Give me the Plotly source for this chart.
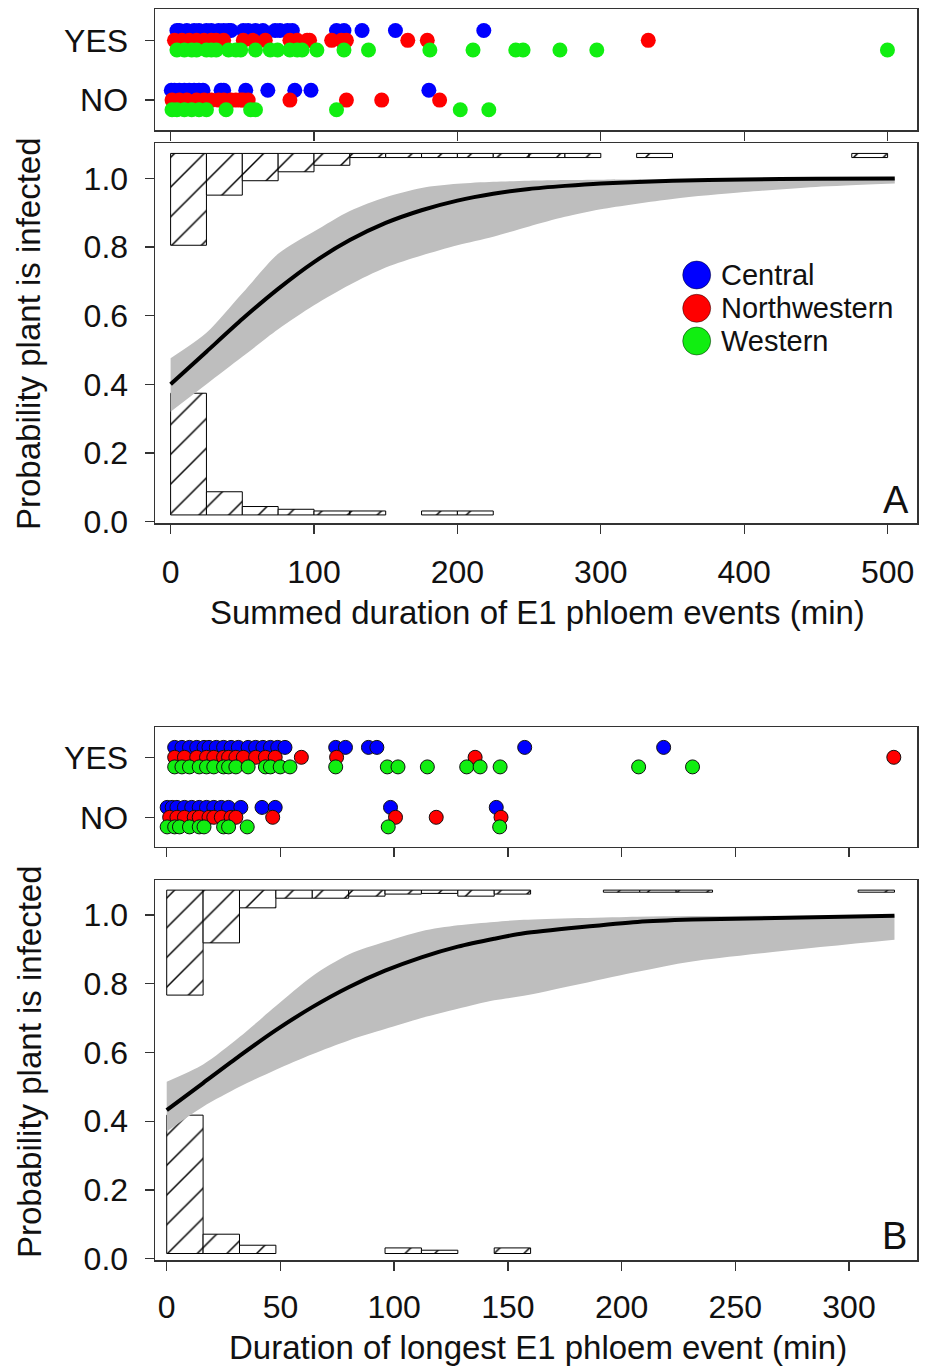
import plotly.graph_objects as go

# ---------------- data ----------------
groups = ["Central", "Northwestern", "Western"]
group_colors = ["#0000FF", "#FF0000", "#11EE11"]

# Panel A strip (summed duration of E1, min)
a_yes_central = [4.4, 6.1, 11.3, 16.4, 19.8, 25, 28.4, 33.5, 37, 40.4, 42.1, 50.7, 54.1, 59.2, 64.4, 72.9, 76.3, 81.5, 84.9, 115.7, 120.9, 133.5, 156.8, 218.4]
a_yes_nw = [2.7, 7.9, 13, 18.1, 23.3, 28.4, 31.8, 37, 50.7, 57.5, 66, 83.2, 88.3, 95.2, 96.9, 112.3, 119.1, 122.6, 165.4, 179, 333.1]
a_yes_w = [4.4, 9.6, 14.7, 18.1, 25, 28.4, 31.8, 40.4, 45.5, 48.9, 59.2, 69.5, 74.6, 83.2, 88.3, 91.7, 102, 120.9, 138, 180.8, 210.9, 240.7, 245.8, 271.5, 297.2, 499.9]
a_no_central = [0.5, 2.7, 6.1, 9.6, 13, 16.4, 19.8, 22.6, 35.2, 37, 52.4, 67.8, 86.6, 97.9, 180.1]
a_no_nw = [1, 6.1, 11.3, 18.1, 23.3, 28.4, 33.5, 37, 42.1, 45.5, 48.9, 50.7, 54.1, 83.2, 122.6, 147.2, 187.6]
a_no_w = [1, 4.4, 9.6, 14.7, 19.8, 25, 38.7, 55.8, 59.2, 115.7, 202, 221.9]

# Panel A histograms (bin width 25 min)
a_bin_width = 25
a_yes_depth = [0.2675, 0.1215, 0.0795, 0.0535, 0.0345, 0.012, 0.012, 0.012, 0.012, 0.012,
               0.012, 0.012, 0, 0.012, 0, 0, 0, 0, 0, 0.012]
a_no_height = [0.3545, 0.0675, 0.0245, 0.0165, 0.0115, 0.0115, 0, 0.0115, 0.0115]
a_yes_top = 1.0725
a_no_base = 0.0195

# Panel A fitted curve and confidence band
a_curve_x = [0, 25, 50, 75, 100, 125, 150, 175, 200, 225, 250, 275, 300, 350, 400, 450, 505]
a_curve_y = [0.400, 0.495, 0.590, 0.678, 0.756, 0.820, 0.870, 0.907, 0.935, 0.955, 0.969, 0.978, 0.985, 0.993, 0.9968, 0.9985, 0.9994]
a_upper = [0.476, 0.55, 0.665, 0.78, 0.845, 0.905, 0.945, 0.972, 0.984, 0.99, 0.993, 0.995, 0.996, 0.998, 0.999, 0.999, 0.9995]
a_lower = [0.32, 0.40, 0.48, 0.56, 0.63, 0.69, 0.74, 0.775, 0.805, 0.83, 0.86, 0.888, 0.91, 0.94, 0.96, 0.975, 0.985]
a_xticks = [0, 100, 200, 300, 400, 500]

# Panel B strip (longest E1 event, min)
b_yes_central = [3.5, 6.7, 10, 13.2, 16.4, 18.6, 21.8, 25, 28.3, 31.5, 35.8, 39.1, 42.3, 45.6, 48.8, 52, 74.3, 78.6, 88.7, 92.4, 157.4, 218.5]
b_yes_nw = [3.5, 7.8, 13.2, 17.5, 20.7, 25, 27.2, 30.4, 33.7, 39.1, 43.4, 47.7, 59.2, 74.7, 135.6, 319.7]
b_yes_w = [3.5, 6.7, 10, 14.3, 17.5, 20.7, 25, 27.2, 30.4, 35.8, 43.4, 45.6, 49.9, 54.2, 74.3, 97, 101.7, 114.6, 131.9, 137.8, 146.6, 207.5, 231.2]
b_no_central = [0.2, 2.4, 4.5, 7.8, 11, 14.3, 17.5, 20.7, 24, 27.2, 32.6, 41.9, 47.7, 98.4, 144.9]
b_no_nw = [1.3, 4.5, 7.8, 12.1, 14.3, 18.6, 20.7, 24, 28.3, 30.4, 46.6, 100.6, 118.5, 147]
b_no_w = [0.2, 3.5, 5.6, 10, 14.3, 16.4, 25, 27.2, 35.4, 97.4, 146.4]

# Panel B histograms (bin width 16 min)
b_bin_width = 16
b_yes_depth = [0.3055, 0.1535, 0.0515, 0.0235, 0.0235, 0.0175, 0.0115, 0.0095, 0.0175, 0.0115,
               0, 0, 0.006, 0.006, 0.006, 0, 0, 0, 0, 0.006]
b_no_height = [0.4027, 0.0562, 0.0241, 0, 0, 0, 0.0163, 0.0096, 0, 0.0163]
b_yes_top = 1.0725
b_no_base = 0.0149

b_curve_x = [0, 16, 32, 48, 64, 80, 96, 112, 128, 144, 157, 207, 231, 320]
b_curve_y = [0.432, 0.511, 0.590, 0.665, 0.732, 0.790, 0.838, 0.877, 0.908, 0.931, 0.947, 0.980, 0.987, 0.998]
b_upper = [0.515, 0.565, 0.645, 0.735, 0.822, 0.885, 0.922, 0.953, 0.97, 0.98, 0.986, 0.995, 0.997, 0.9995]
b_lower = [0.37, 0.442, 0.50, 0.55, 0.595, 0.635, 0.668, 0.70, 0.727, 0.752, 0.765, 0.835, 0.865, 0.928]
b_xticks = [0, 50, 100, 150, 200, 250, 300]

y_ticks = [0.0, 0.2, 0.4, 0.6, 0.8, 1.0]
y_ticktext = ["0.0", "0.2", "0.4", "0.6", "0.8", "1.0"]
strip_ticktext = ["NO", "YES"]

x_title_a = "Summed duration of E1 phloem events (min)"
x_title_b = "Duration of longest E1 phloem event (min)"
y_title = "Probability plant is infected"

# ---------------- layout helpers ----------------
W, H = 925, 1367
FONT = "Arial, Liberation Sans, sans-serif"
AX = "#333333"

def fx(p):
    return p / W

def fy(p):
    return 1 - p / H

fig = go.Figure()

offsets = [0.165, 0.0, -0.16]


def add_strip(yes_lists, no_lists, xa, ya, size, outline):
    for gi, (yes, no) in enumerate(zip(yes_lists, no_lists)):
        xs = list(no) + list(yes)
        ys = [0 + offsets[gi]] * len(no) + [1 + offsets[gi]] * len(yes)
        fig.add_trace(go.Scatter(
            x=xs, y=ys, mode="markers", xaxis=xa, yaxis=ya, showlegend=False,
            marker=dict(size=size, color=group_colors[gi],
                        line=dict(color="#111111" if outline else group_colors[gi], width=1 if outline else 0)),
            hoverinfo="skip"))


def add_hist(depths, heights, width, top, base, xa, ya):
    pat = dict(shape="/", size=21, solidity=0.07, fgcolor="black", bgcolor="white")
    xs, ys, bs = [], [], []
    for i, d in enumerate(depths):
        if d > 0:
            xs.append(i * width + width / 2)
            ys.append(d)
            bs.append(top - d)
    fig.add_trace(go.Bar(x=xs, y=ys, base=bs, width=width, xaxis=xa, yaxis=ya, showlegend=False,
                         marker=dict(color="white", line=dict(color="black", width=1), pattern=pat),
                         hoverinfo="skip"))
    xs, ys, bs = [], [], []
    for i, h in enumerate(heights):
        if h > 0:
            xs.append(i * width + width / 2)
            ys.append(h)
            bs.append(base)
    fig.add_trace(go.Bar(x=xs, y=ys, base=bs, width=width, xaxis=xa, yaxis=ya, showlegend=False,
                         marker=dict(color="white", line=dict(color="black", width=1), pattern=pat),
                         hoverinfo="skip"))


def add_curve(cx, cy, lo, up, xa, ya):
    fig.add_trace(go.Scatter(x=cx, y=lo, mode="lines",
                             line=dict(width=0, color="#BEBEBE", shape="spline", smoothing=0.8),
                             xaxis=xa, yaxis=ya, showlegend=False, hoverinfo="skip"))
    fig.add_trace(go.Scatter(x=cx, y=up, mode="lines",
                             line=dict(width=0, color="#BEBEBE", shape="spline", smoothing=0.8),
                             fill="tonexty", fillcolor="#BEBEBE",
                             xaxis=xa, yaxis=ya, showlegend=False, hoverinfo="skip"))
    fig.add_trace(go.Scatter(x=cx, y=cy, mode="lines", line=dict(width=4, color="black", shape="spline", smoothing=0.6),
                             xaxis=xa, yaxis=ya, showlegend=False, hoverinfo="skip"))


# Panel A
add_strip([a_yes_central, a_yes_nw, a_yes_w], [a_no_central, a_no_nw, a_no_w], "x", "y", 15, False)
add_curve(a_curve_x, a_curve_y, a_lower, a_upper, "x2", "y2")
add_hist(a_yes_depth, [], a_bin_width, a_yes_top, a_no_base, "x2", "y2")
add_hist([], a_no_height, a_bin_width, a_yes_top, a_no_base, "x2", "y2")

# Panel B
add_strip([b_yes_central, b_yes_nw, b_yes_w], [b_no_central, b_no_nw, b_no_w], "x3", "y3", 14, True)
add_curve(b_curve_x, b_curve_y, b_lower, b_upper, "x4", "y4")
add_hist(b_yes_depth, [], b_bin_width, b_yes_top, b_no_base, "x4", "y4")
add_hist([], b_no_height, b_bin_width, b_yes_top, b_no_base, "x4", "y4")

tickfont = dict(family=FONT, size=32, color="#111111")
xdom = [fx(155), fx(917)]
a_xr = [-10.88, 520.5]
b_xr = [-5.15, 329.9]
main_yr = [-0.004, 1.102]

common_axis = dict(showline=True, mirror=True, linecolor=AX, linewidth=1.5, ticks="outside",
                   ticklen=9, tickwidth=1.3, tickcolor=AX, showgrid=False, zeroline=False,
                   automargin=False, tickfont=tickfont, fixedrange=True)

fig.update_layout(
    width=W, height=H, template="none", paper_bgcolor="white", plot_bgcolor="white",
    margin=dict(l=0, r=0, t=0, b=0), barmode="overlay", bargap=0, showlegend=False,
    font=dict(family=FONT, color="#111111"),
    xaxis=dict(domain=xdom, anchor="y", range=a_xr, tickvals=a_xticks, showticklabels=False, **common_axis),
    yaxis=dict(domain=[fy(130), fy(9.3)], anchor="x", range=[-0.5, 1.52], tickvals=[0, 1],
               ticktext=strip_ticktext, ticklabelstandoff=10, **common_axis),
    xaxis2=dict(domain=xdom, anchor="y2", range=a_xr, tickvals=a_xticks, ticklabelstandoff=11, **common_axis),
    yaxis2=dict(domain=[fy(523), fy(143.3)], anchor="x2", range=main_yr, tickvals=y_ticks,
                ticktext=y_ticktext, ticklabelstandoff=10, **common_axis),
    xaxis3=dict(domain=xdom, anchor="y3", range=b_xr, tickvals=b_xticks, showticklabels=False, **common_axis),
    yaxis3=dict(domain=[fy(846.7), fy(727.3)], anchor="x3", range=[-0.49, 1.5], tickvals=[0, 1],
                ticktext=strip_ticktext, ticklabelstandoff=10, **common_axis),
    xaxis4=dict(domain=xdom, anchor="y4", range=b_xr, tickvals=b_xticks, ticklabelstandoff=9, **common_axis),
    yaxis4=dict(domain=[fy(1260), fy(880)], anchor="x4", range=main_yr, tickvals=y_ticks,
                ticktext=y_ticktext, ticklabelstandoff=10, **common_axis),
)

ann = []
titlefont = dict(family=FONT, size=33, color="#111111")
ann.append(dict(x=fx(537), y=fy(612), xref="paper", yref="paper", text=x_title_a, showarrow=False,
                xanchor="center", yanchor="middle", font=titlefont))
ann.append(dict(x=fx(538), y=fy(1347), xref="paper", yref="paper", text=x_title_b, showarrow=False,
                xanchor="center", yanchor="middle", font=titlefont))
ann.append(dict(x=fx(29), y=fy(334), xref="paper", yref="paper", text=y_title, showarrow=False,
                textangle=-90, xanchor="center", yanchor="middle", font=titlefont))
ann.append(dict(x=fx(29), y=fy(1062), xref="paper", yref="paper", text=y_title, showarrow=False,
                textangle=-90, xanchor="center", yanchor="middle", font=titlefont))
ann.append(dict(x=fx(896), y=fy(500), xref="paper", yref="paper", text="A", showarrow=False,
                xanchor="center", yanchor="middle", font=dict(family=FONT, size=38, color="#111111")))
ann.append(dict(x=fx(894), y=fy(1236), xref="paper", yref="paper", text="B", showarrow=False,
                xanchor="center", yanchor="middle", font=dict(family=FONT, size=38, color="#111111")))

# legend (panel A)
shapes = []
leg_y = [275, 308.3, 341]
r = 14
for gi, g in enumerate(groups):
    cy = leg_y[gi]
    shapes.append(dict(type="circle", xref="paper", yref="paper",
                       x0=fx(696.7 - r), x1=fx(696.7 + r), y0=fy(cy + r), y1=fy(cy - r),
                       fillcolor=group_colors[gi], line=dict(color="rgba(0,0,0,0.45)", width=1)))
    ann.append(dict(x=fx(719), y=fy(cy), xref="paper", yref="paper", text=g, showarrow=False,
                    xanchor="left", yanchor="middle", font=dict(family=FONT, size=29, color="#111111")))

fig.update_layout(annotations=ann, shapes=shapes)

fig.write_html("out.html", config={"displayModeBar": False, "staticPlot": True},
               post_script="document.body.style.margin='0';")
